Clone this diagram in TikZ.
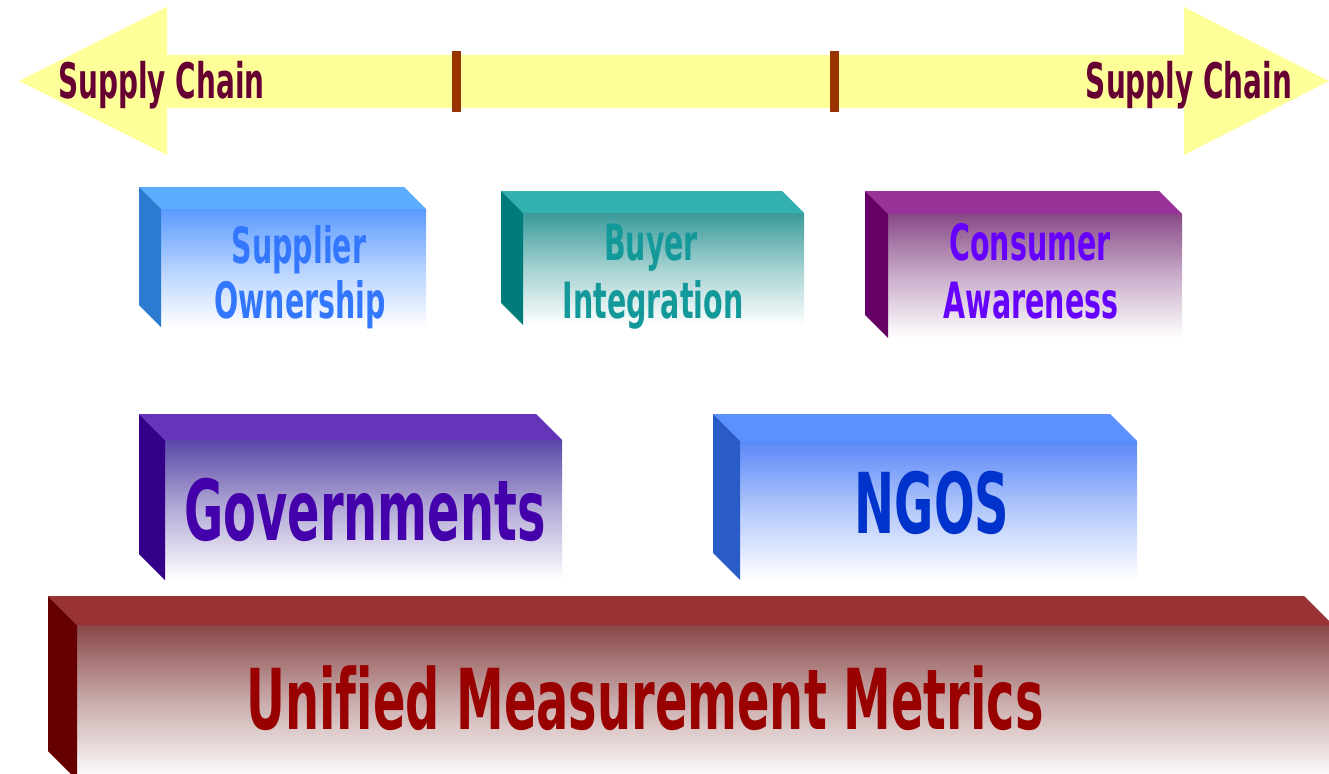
\documentclass[tikz,border=0pt]{standalone}
\usepackage{fontspec}
\newfontfamily\agency{DejaVu Sans}[FakeStretch=0.57,UprightFont={* Bold},Ligatures=CommonOff]
\definecolor{arrowyellow}{HTML}{FFFF99}
\definecolor{tickbrown}{HTML}{993300}
\definecolor{chaintext}{HTML}{660033}
% supplier
\definecolor{supSide}{HTML}{2B7BD0}
\definecolor{supTop}{HTML}{5AADFF}
\definecolor{supFront}{HTML}{5A9AFF}
\definecolor{supText}{HTML}{3377FF}
% buyer
\definecolor{buySide}{HTML}{007B7B}
\definecolor{buyTop}{HTML}{33B0B0}
\definecolor{buyFront}{HTML}{3A9A9A}
\definecolor{buyText}{HTML}{139999}
% consumer
\definecolor{conSide}{HTML}{660066}
\definecolor{conTop}{HTML}{993399}
\definecolor{conFront}{HTML}{884A88}
\definecolor{conText}{HTML}{6600FF}
% governments
\definecolor{govSide}{HTML}{330088}
\definecolor{govTop}{HTML}{6633BB}
\definecolor{govFront}{HTML}{5A48A8}
\definecolor{govText}{HTML}{4400AA}
% ngos
\definecolor{ngoSide}{HTML}{2A5CC8}
\definecolor{ngoTop}{HTML}{5A90FF}
\definecolor{ngoFront}{HTML}{5A88F8}
\definecolor{ngoText}{HTML}{0033CC}
% unified
\definecolor{uniSide}{HTML}{660000}
\definecolor{uniTop}{HTML}{993333}
\definecolor{uniFront}{HTML}{8A4848}
\definecolor{uniText}{HTML}{990000}
% #1 x0, #2 y0, #3 x1, #4 depth, #5 ybottom, #6 side, #7 top, #8 front
\newcommand{\cubebox}[8]{%
  \shade[top color=#8, bottom color=white, middle color=#8!45!white]
    (#1+#4,#2+#4) rectangle (#3,#5);
  \fill[#7] (#1,#2) -- (#3-#4,#2) -- (#3,#2+#4) -- (#1+#4,#2+#4) -- cycle;
  \fill[#6] (#1,#2) -- (#1+#4,#2+#4) -- (#1+#4,#5) -- (#1,#5-#4) -- cycle;
}
\tikzset{
  chainlbl/.style={anchor=base, inner sep=0pt, text=chaintext,
    font=\agency\fontsize{49}{49}\selectfont},
  smalllbl/.style={anchor=base, inner sep=0pt,
    font=\agency\fontsize{50}{50}\selectfont},
  biglbl/.style={anchor=base, inner sep=0pt,
    font=\agency\fontsize{84}{84}\selectfont},
}
\begin{document}
\begin{tikzpicture}[x=1pt,y=-1pt]
\useasboundingbox (0,0) rectangle (1329,773);
\begin{scope}
\clip (0,0) rectangle (1329,773);
% double arrow
\fill[arrowyellow] (19,81) -- (167,7) -- (167,55) -- (1184,55) -- (1184,7)
  -- (1329,81) -- (1184,155) -- (1184,108) -- (167,108) -- (167,155) -- cycle;
\fill[tickbrown] (452,51) rectangle (461,112);
\fill[tickbrown] (830,51) rectangle (839,112);
\node[chainlbl] (scl) at (161.5,99) {Supply Chain};
\node[chainlbl] (scr) at (1189,99) {Supply Chain};

% boxes
\cubebox{139}{187}{426}{22}{327}{supSide}{supTop}{supFront}
\cubebox{501}{191}{804}{22}{325}{buySide}{buyTop}{buyFront}
\cubebox{865}{191}{1182}{23}{338}{conSide}{conTop}{conFront}
\cubebox{139}{414}{562}{26}{580}{govSide}{govTop}{govFront}
\cubebox{713}{414}{1137}{27}{580}{ngoSide}{ngoTop}{ngoFront}
\cubebox{48}{596}{1333}{29}{780}{uniSide}{uniTop}{uniFront}

\node[smalllbl, text=supText] (sup1) at (299,263) {Supplier};
\node[smalllbl, text=supText] (sup2) at (300,318) {Ownership};
\node[smalllbl, text=buyText] (buy1) at (651,260) {Buyer};
\node[smalllbl, text=buyText] (buy2) at (653,318) {Integration};
\node[smalllbl, text=conText] (con1) at (1030,260) {Consumer};
\node[smalllbl, text=conText] (con2) at (1031,318) {Awareness};
\node[biglbl, text=govText] (gov) at (365,540) {Governments};
\node[biglbl, text=ngoText] (ngo) at (932,533) {NGOS};
\node[biglbl, text=uniText] (uni) at (645,729) {Unified Measurement Metrics};
\end{scope}
\end{tikzpicture}
\end{document}
